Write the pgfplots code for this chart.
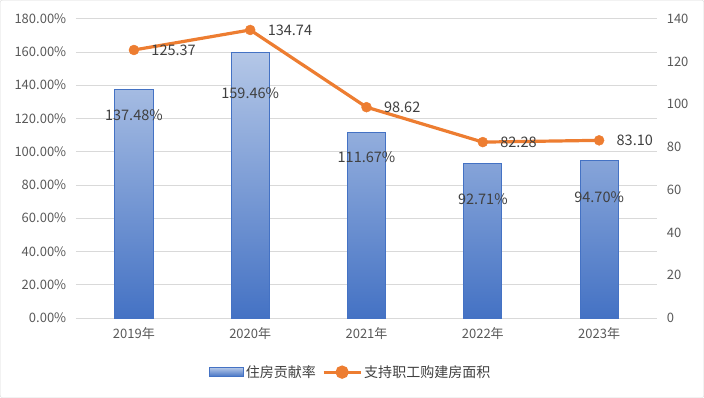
\documentclass[border=0pt]{standalone}
\usepackage{pgfplots}
\pgfplotsset{compat=1.18}
\usepackage{fontspec}
\setmainfont{Noto Sans CJK SC}
\definecolor{barblue}{HTML}{4472C4}
\definecolor{barlight}{HTML}{B4C7E7}
\definecolor{lineor}{HTML}{ED7D31}
\definecolor{gridc}{HTML}{D9D9D9}
\definecolor{tickc}{HTML}{595959}
\definecolor{labc}{HTML}{404040}
\newcommand{\tickfont}{\fontsize{13}{15}\selectfont}
\newcommand{\labfont}{\fontsize{14.5}{16}\selectfont}
\begin{document}
\begin{tikzpicture}[x=1pt,y=1pt]
\draw[gridc, rounded corners=2pt] (0.5,0.5) rectangle (703.5,397.5);
\begin{axis}[
  at={(76pt,80pt)}, anchor=south west, scale only axis,
  width=581pt, height=299pt,
  xmin=-0.5, xmax=4.5, ymin=0, ymax=180,
  axis x line*=bottom, axis y line*=left,
  x axis line style={gridc, line width=0.8pt, -},
  y axis line style={draw=none},
  major tick length=0pt,
  xtick={0,...,4}, xticklabels={2019年,2020年,2021年,2022年,2023年},
  ytick={0,20,...,180},
  yticklabels={0.00\%,20.00\%,40.00\%,60.00\%,80.00\%,100.00\%,120.00\%,140.00\%,160.00\%,180.00\%},
  ymajorgrids, grid style={gridc, line width=0.8pt},
  ticklabel style={font=\tickfont, text=tickc},
  yticklabel style={xshift=-6pt},
  xticklabel style={yshift=-6pt},
  clip=false,
]
\addplot[ybar, bar width=38pt, draw=barblue, line width=0.8pt, top color=barlight, bottom color=barblue]
  coordinates {(0,137.48) (1,159.46) (2,111.67) (3,92.71) (4,94.70)};
\node[font=\labfont, text=labc] at (axis cs:0,122.2) {137.48\%};
\node[font=\labfont, text=labc] at (axis cs:1,135.5) {159.46\%};
\node[font=\labfont, text=labc] at (axis cs:2,96.9) {111.67\%};
\node[font=\labfont, text=labc] at (axis cs:3,71.6) {92.71\%};
\node[font=\labfont, text=labc] at (axis cs:4,72.8) {94.70\%};
\end{axis}
\begin{axis}[
  at={(76pt,80pt)}, anchor=south west, scale only axis,
  width=581pt, height=299pt,
  xmin=-0.5, xmax=4.5, ymin=0, ymax=140,
  axis x line=none, axis y line*=right,
  y axis line style={draw=none},
  major tick length=0pt,
  ytick={0,20,...,140},
  ticklabel style={font=\tickfont, text=tickc},
  yticklabel style={xshift=6pt},
  /pgf/number format/assume math mode=true,
  clip=false,
  legend style={at={(0.473,-0.181)}, anchor=center, draw=none, fill=none,
    legend columns=2, font=\fontsize{14}{16}\selectfont, text=labc,
    /tikz/every even column/.append style={column sep=4pt}},
]
\addlegendimage{legend image code/.code={\draw[draw=barblue, line width=0.6pt, top color=barlight, bottom color=barblue] (0pt,-4.5pt) rectangle (34pt,4.5pt);}}
\addlegendentry{住房贡献率}
\addplot[lineor, line width=3.2pt, mark=*, mark size=5pt, mark options={solid, fill=lineor, draw=lineor, line width=0.4pt},
  point meta=explicit symbolic,
  nodes near coords, every node near coord/.append style={anchor=west, xshift=14pt, font=\labfont, text=labc},
  legend image code/.code={\draw[lineor, line width=3.2pt] (0pt,0pt) -- (37pt,0pt); \fill[lineor] (18.5pt,0pt) circle (5pt);}]
  coordinates {(0,125.37) [125.37] (1,134.74) [134.74] (2,98.62) [98.62] (3,82.28) [82.28] (4,83.10) [83.10]};
\addlegendentry{支持职工购建房面积}
\end{axis}
\end{tikzpicture}
\end{document}
